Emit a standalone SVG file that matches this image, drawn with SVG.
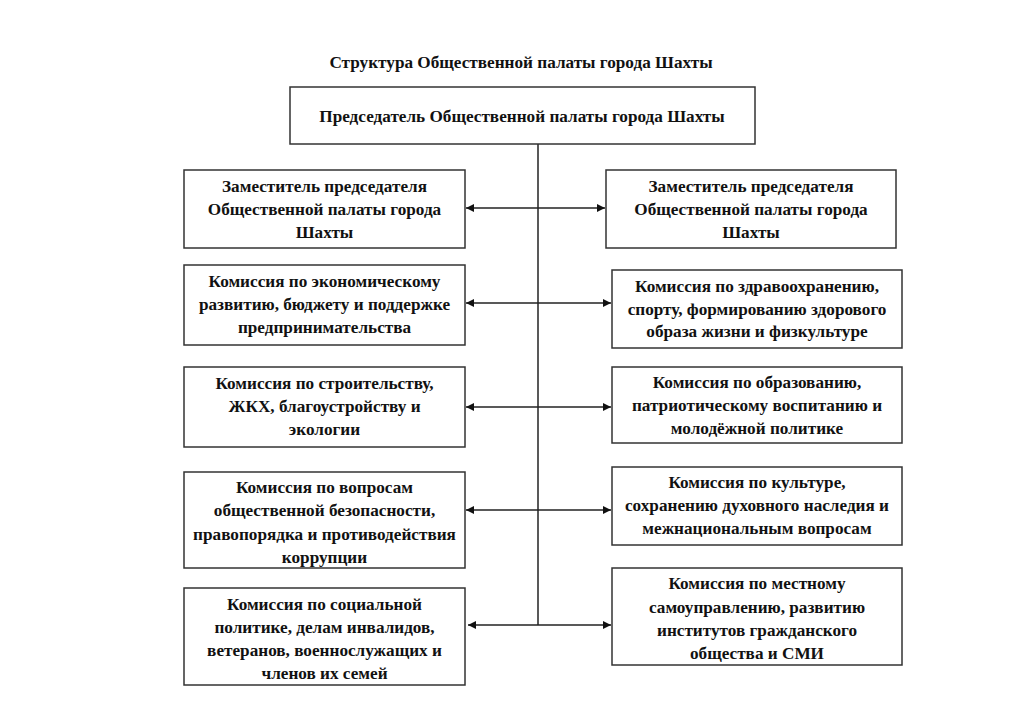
<svg xmlns="http://www.w3.org/2000/svg" width="1024" height="724" viewBox="0 0 1024 724">
<defs>
<marker id="ah" viewBox="0 0 10 10" refX="10" refY="5" markerWidth="10" markerHeight="8" markerUnits="userSpaceOnUse" orient="auto-start-reverse">
<path d="M0,0 L10,5 L0,10 Z" fill="#111"/>
</marker>
<style>
.box{fill:#fff;stroke:#333;stroke-width:1.5}
.t{font-family:"Liberation Serif","Times New Roman",serif;font-weight:bold;font-size:17.2px;fill:#111;text-anchor:middle}
.ln{stroke:#222;stroke-width:1.5;fill:none}
.ar{stroke:#222;stroke-width:1.5;fill:none;marker-start:url(#ah);marker-end:url(#ah)}
</style>
</defs>
<rect width="1024" height="724" fill="#fff"/>
<text class="t" x="521" y="68">Структура Общественной палаты города Шахты</text>

<g id="connectors">
<line class="ln" x1="538" y1="144" x2="538" y2="625"/>
<line class="ar" x1="466" y1="208" x2="605" y2="208"/>
<line class="ar" x1="466" y1="303" x2="611" y2="303"/>
<line class="ar" x1="466" y1="407" x2="611" y2="407"/>
<line class="ar" x1="466" y1="510" x2="611" y2="510"/>
<line class="ar" x1="468" y1="625" x2="611" y2="625"/>
</g>

<g id="chair">
<rect class="box" x="290" y="87" width="465" height="57"/>
<text class="t" x="522" y="122">Председатель Общественной палаты города Шахты</text>
</g>

<g id="l1">
<rect class="box" x="184" y="170" width="281" height="78"/>
<text class="t" x="324.5" y="192">Заместитель председателя</text>
<text class="t" x="324.5" y="215">Общественной палаты города</text>
<text class="t" x="324.5" y="238">Шахты</text>
</g>
<g id="r1">
<rect class="box" x="606" y="170" width="290" height="78"/>
<text class="t" x="751" y="192">Заместитель председателя</text>
<text class="t" x="751" y="215">Общественной палаты города</text>
<text class="t" x="751" y="238">Шахты</text>
</g>

<g id="l2">
<rect class="box" x="184" y="265" width="281" height="80"/>
<text class="t" x="324.5" y="287">Комиссия по экономическому</text>
<text class="t" x="324.5" y="310">развитию, бюджету и поддержке</text>
<text class="t" x="324.5" y="333">предпринимательства</text>
</g>
<g id="r2">
<rect class="box" x="612" y="270" width="290" height="78"/>
<text class="t" x="757" y="292">Комиссия по здравоохранению,</text>
<text class="t" x="757" y="315">спорту, формированию здорового</text>
<text class="t" x="757" y="337">образа жизни и физкультуре</text>
</g>

<g id="l3">
<rect class="box" x="184" y="367" width="281" height="80"/>
<text class="t" x="324.5" y="389">Комиссия по строительству,</text>
<text class="t" x="324.5" y="412">ЖКХ, благоустройству и</text>
<text class="t" x="324.5" y="435">экологии</text>
</g>
<g id="r3">
<rect class="box" x="612" y="367" width="290" height="76"/>
<text class="t" x="757" y="388">Комиссия по образованию,</text>
<text class="t" x="757" y="411">патриотическому воспитанию и</text>
<text class="t" x="757" y="434">молодёжной политике</text>
</g>

<g id="l4">
<rect class="box" x="184" y="472" width="281" height="96"/>
<text class="t" x="324.5" y="493">Комиссия по вопросам</text>
<text class="t" x="324.5" y="516">общественной безопасности,</text>
<text class="t" x="324.5" y="540">правопорядка и противодействия</text>
<text class="t" x="324.5" y="563">коррупции</text>
</g>
<g id="r4">
<rect class="box" x="612" y="467" width="290" height="78"/>
<text class="t" x="757" y="488">Комиссия по культуре,</text>
<text class="t" x="757" y="511">сохранению духовного наследия и</text>
<text class="t" x="757" y="534">межнациональным вопросам</text>
</g>

<g id="l5">
<rect class="box" x="184" y="588" width="281" height="97"/>
<text class="t" x="324.5" y="610">Комиссия по социальной</text>
<text class="t" x="324.5" y="633">политике, делам инвалидов,</text>
<text class="t" x="324.5" y="656">ветеранов, военнослужащих и</text>
<text class="t" x="324.5" y="679">членов их семей</text>
</g>
<g id="r5">
<rect class="box" x="612" y="568" width="290" height="97"/>
<text class="t" x="757" y="589">Комиссия по местному</text>
<text class="t" x="757" y="613">самоуправлению, развитию</text>
<text class="t" x="757" y="636">институтов гражданского</text>
<text class="t" x="757" y="659">общества и СМИ</text>
</g>
</svg>
